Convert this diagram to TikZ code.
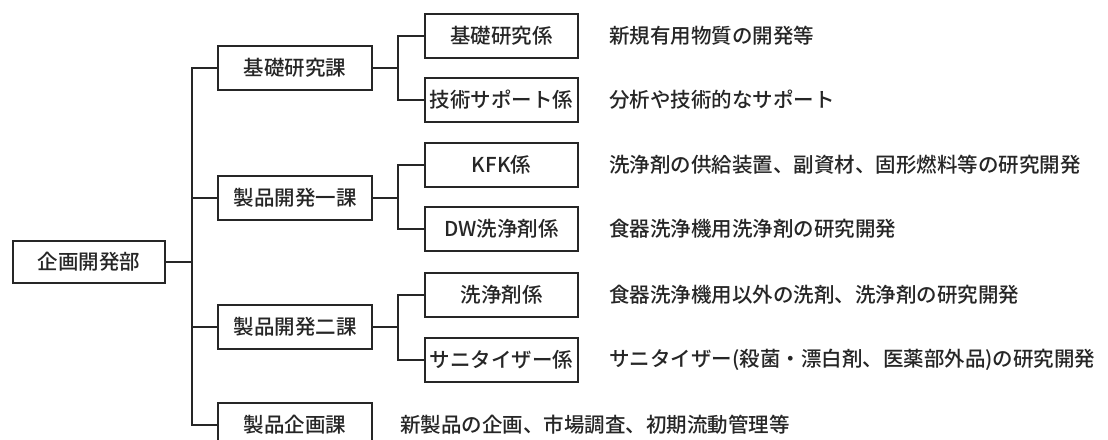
\documentclass[tikz,border=0pt]{standalone}
\usepackage{fontspec}
\setmainfont{Noto Sans CJK JP}[BoldFont={Noto Sans CJK JP Medium}]
\begin{document}
\begin{tikzpicture}[x=1pt,y=-1pt,
  box/.style={draw=black!85,line width=1.6pt,minimum height=44pt,inner sep=0pt,font=\fontsize{20.5}{24}\selectfont\bfseries,text=black!85},
  rootbox/.style={box,minimum width=152pt,minimum height=42pt},
  lvtwo/.style={box,minimum width=154pt},
  lvthree/.style={box,minimum width=153pt},
  desc/.style={anchor=west,inner sep=0pt,font=\fontsize{20.5}{24}\selectfont\bfseries,text=black!85},
  conn/.style={draw=black!85,line width=1.6pt}]
\useasboundingbox (0,0) rectangle (1108,439);
\clip (0,0) rectangle (1108,439);
\fill[white] (0,0) rectangle (1108,439);
\node[rootbox] (root) at (89,262) {企画開発部};
\node[lvtwo] (ka) at (295,68) {基礎研究課};
\node[lvtwo] (kb) at (295,198) {製品開発一課};
\node[lvtwo] (kc) at (295,327) {製品開発二課};
\node[lvtwo] (kd) at (295,425) {製品企画課};
\node[lvthree] (a1) at (501.5,36) {基礎研究係};
\node[lvthree] (a2) at (501.5,100) {技術サポート係};
\node[lvthree] (b1) at (501.5,165) {KFK係};
\node[lvthree] (b2) at (501.5,229) {DW洗浄剤係};
\node[lvthree] (c1) at (501.5,295) {洗浄剤係};
\node[lvthree] (c2) at (501.5,360) {サニタイザー係};
\node[desc] (da1) at (609,36) {新規有用物質の開発等};
\node[desc] (da2) at (609,100) {分析や技術的なサポート};
\node[desc] (db1) at (609,165) {洗浄剤の供給装置、副資材、固形燃料等の研究開発};
\node[desc] (db2) at (609,229) {食器洗浄機用洗浄剤の研究開発};
\node[desc] (dc1) at (609,295) {食器洗浄機用以外の洗剤、洗浄剤の研究開発};
\node[desc] (dc2) at (609,360) {サニタイザー(殺菌・漂白剤、医薬部外品)の研究開発};
\node[desc] (dd) at (400,425) {新製品の企画、市場調査、初期流動管理等};
\coordinate (t) at (192,262);
\coordinate (sa) at (398,68);
\coordinate (sb) at (398,198);
\coordinate (sc) at (398,327);
\draw[conn] (root.east) -- (t);
\draw[conn] (ka.west) -| (t) |- (kd.west);
\draw[conn] (t) |- (kb.west);
\draw[conn] (t) |- (kc.west);
\draw[conn] (ka.east) -- (sa);
\draw[conn] (a1.west) -| (sa) |- (a2.west);
\draw[conn] (kb.east) -- (sb);
\draw[conn] (b1.west) -| (sb) |- (b2.west);
\draw[conn] (kc.east) -- (sc);
\draw[conn] (c1.west) -| (sc) |- (c2.west);
\end{tikzpicture}
\end{document}
